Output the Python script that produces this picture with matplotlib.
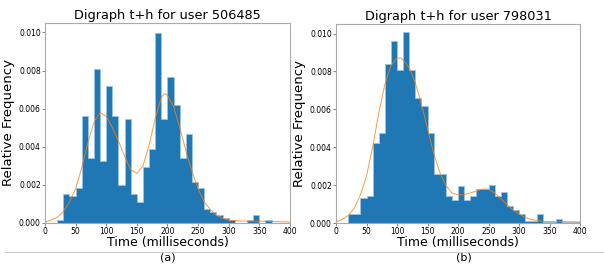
import numpy as np
import matplotlib
matplotlib.use("Agg")
import matplotlib.pyplot as plt

# histogram bins, 10 ms wide, starting at 20 ms
bin_start = 20
bin_width = 10

freq_a = [0.00014, 0.00154, 0.0014, 0.00184, 0.00563, 0.0034, 0.0081, 0.00325,
          0.00717, 0.0056, 0.00201, 0.00545, 0.00154, 0.00108, 0.00294, 0.00388,
          0.00997, 0.00545, 0.00764, 0.0062, 0.0034, 0.00467, 0.00213, 0.00184,
          0.00073, 0.0006, 0.00044, 0.00026, 0.00014, 0.0, 0.0, 0.00014,
          0.00044, 0.0, 0.00014]

freq_b = [0.00049, 0.00049, 0.00134, 0.00143, 0.00424, 0.00477, 0.0084, 0.0096,
          0.0081, 0.0101, 0.0081, 0.0066, 0.0062, 0.00477, 0.0026, 0.0026,
          0.00143, 0.00125, 0.00195, 0.00125, 0.00143, 0.00183, 0.00183, 0.0020,
          0.00143, 0.00164, 0.00092, 0.0007, 0.00049, 0.0001, 0.0001, 0.00049,
          0.00005, 0.00005, 0.0002, 0.00007, 0.00005, 0.00005]

# density curves
curve_x_a = [0, 10, 20, 30, 40, 50, 60, 70, 80, 90, 100, 110, 120, 130, 140,
             150, 160, 170, 180, 190, 195, 200, 210, 220, 230, 240, 250, 260,
             270, 280, 290, 300, 320, 350, 400]
curve_y_a = [0.00006, 0.00015, 0.0003, 0.0006, 0.0011, 0.0018, 0.0029, 0.0042,
             0.0053, 0.0058, 0.0056, 0.0050, 0.0043, 0.0035, 0.0028, 0.0026,
             0.0030, 0.0041, 0.0055, 0.0066, 0.0068, 0.0067, 0.0061, 0.0050,
             0.0038, 0.0027, 0.0018, 0.0011, 0.0007, 0.0004, 0.00025, 0.00015,
             0.0001, 0.0001, 0.00005]

curve_x_b = [0, 10, 20, 30, 40, 50, 60, 70, 80, 90, 100, 107, 110, 120, 130,
             140, 150, 160, 170, 180, 190, 200, 210, 220, 230, 240, 250, 260,
             270, 280, 290, 300, 310, 320, 340, 400]
curve_y_b = [0.00007, 0.0002, 0.0004, 0.0008, 0.0015, 0.0025, 0.0040, 0.0058,
             0.0073, 0.0083, 0.0087, 0.0087, 0.0086, 0.0082, 0.0074, 0.0063,
             0.0050, 0.0037, 0.0027, 0.0020, 0.0016, 0.0015, 0.0015, 0.0016,
             0.0017, 0.0018, 0.0018, 0.0016, 0.0013, 0.0010, 0.0007, 0.0005,
             0.0003, 0.0002, 0.0001, 0.00007]

users = ["506485", "798031"]
sublabels = ["(a)", "(b)"]

fig = plt.figure(figsize=(6.04, 2.66), dpi=100)
ax_a = fig.add_axes([0.0745, 0.1617, 0.4056, 0.752])
ax_b = fig.add_axes([0.5563, 0.1606, 0.404, 0.749])


def draw(ax, freq, cx, cy, user):
    edges = bin_start + bin_width * np.arange(len(freq) + 1)
    ax.stairs(freq, edges, fill=True, facecolor="#1f77b4",
              edgecolor="#9cc3e4", linewidth=0.6)
    ax.plot(cx, cy, color="#ff7f0e", linewidth=0.7, alpha=0.8)
    ax.set_xlim(0, 400)
    ax.set_ylim(0, 0.0105)
    ax.set_xticks(range(0, 401, 50))
    ax.set_yticks(np.arange(0, 0.0101, 0.002))
    ax.yaxis.set_major_formatter(matplotlib.ticker.FormatStrFormatter("%.3f"))
    ax.tick_params(labelsize=5.5, length=2, width=0.5, pad=1, color="#555555")
    for s in ax.spines.values():
        s.set_color("#aaaaaa")
        s.set_linewidth(0.8)
    ax.set_title("Digraph t+h for user " + user, fontsize=9.3, pad=3)
    ax.set_xlabel("Time (milliseconds)", fontsize=9, labelpad=0)
    ax.set_ylabel("Relative Frequency", fontsize=9.5, labelpad=3)


draw(ax_a, freq_a, curve_x_a, curve_y_a, users[0])
draw(ax_b, freq_b, curve_x_b, curve_y_b, users[1])

fig.add_artist(matplotlib.lines.Line2D([0.008, 1.0], [0.053, 0.053],
                                       color="#cccccc", linewidth=0.8))
fig.text(0.278, 0.032, sublabels[0], ha="center", va="center", fontsize=8)
fig.text(0.768, 0.032, sublabels[1], ha="center", va="center", fontsize=8)

fig.savefig("out.png", dpi=100)
